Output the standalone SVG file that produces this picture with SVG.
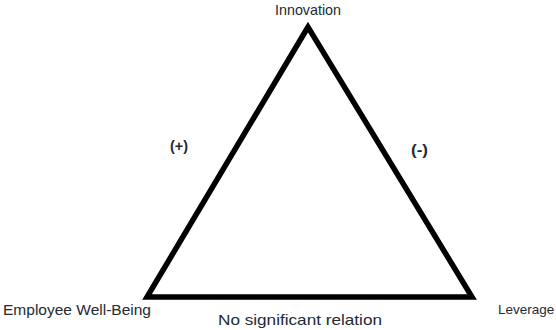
<svg xmlns="http://www.w3.org/2000/svg" width="556" height="330" viewBox="0 0 556 330">
<style>
.t{font-family:"Liberation Sans","Open Sans",sans-serif;font-size:14.5px;fill:#222a33}
.b{font-weight:bold}
</style>
<rect width="556" height="330" fill="#fff"/>
<g id="connectors">
<polygon points="308,27 147,297 472,297" fill="none" stroke="#000" stroke-width="5.5" stroke-linejoin="miter"/>
</g>
<g id="innovation"><text class="t" x="308" y="15" text-anchor="middle" textLength="66" lengthAdjust="spacingAndGlyphs">Innovation</text></g>
<g id="wellbeing"><text class="t" x="3" y="315" textLength="148" lengthAdjust="spacingAndGlyphs">Employee Well-Being</text></g>
<g id="leverage"><text class="t" x="498" y="314" style="font-size:13.5px">Leverage</text></g>
<g id="label-bottom"><text class="t" x="218" y="325" textLength="164" lengthAdjust="spacingAndGlyphs">No significant relation</text></g>
<g id="label-plus"><text class="t b" x="170" y="151" textLength="18" lengthAdjust="spacingAndGlyphs">(+)</text></g>
<g id="label-minus"><text class="t b" x="411" y="155" textLength="17" lengthAdjust="spacingAndGlyphs">(-)</text></g>
</svg>
